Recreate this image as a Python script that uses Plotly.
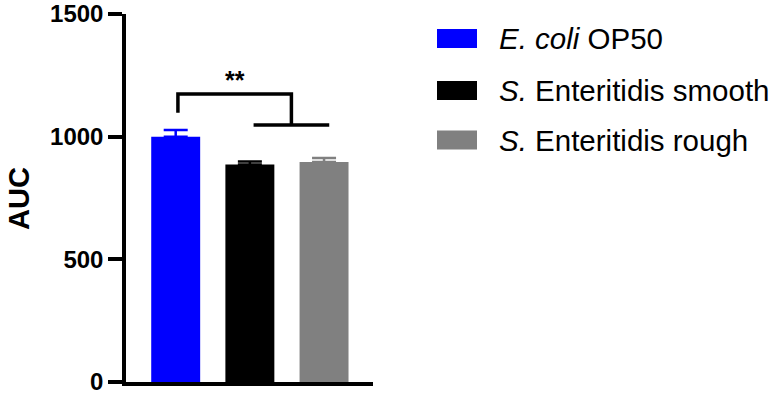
import plotly.graph_objects as go

categories = ["E. coli OP50", "S. Enteritidis smooth", "S. Enteritidis rough"]
legend_labels = ["<i>E. coli</i> OP50", "<i>S.</i> Enteritidis smooth", "<i>S.</i> Enteritidis rough"]
auc_values = [1000, 887, 897]
auc_errors = [27, 12, 16]
colors = ["#0000FF", "#000000", "#808080"]
y_ticks = [0, 500, 1000, 1500]

FONT = "Arial, Liberation Sans, sans-serif"

fig = go.Figure()
for i, (cat, val, err, col) in enumerate(zip(categories, auc_values, auc_errors, colors)):
    fig.add_trace(go.Bar(
        x=[i], y=[val], width=0.66,
        marker=dict(color=col, line=dict(width=0)),
        error_y=dict(type="data", array=[err], symmetric=False, arrayminus=[0],
                     color=col, thickness=2.5, width=12),
        name=cat, showlegend=False,
    ))

# significance bracket (data coords)
br_left_x, br_right_x = 0.03, 1.56
br_top_y, br_left_bottom_y = 1174, 1097
br_sub_y, br_sub_x0, br_sub_x1 = 1048, 1.05, 2.07
line = dict(color="black", width=3.5)
fig.add_shape(type="path", xref="x", yref="y",
              path=f"M {br_left_x},{br_left_bottom_y} L {br_left_x},{br_top_y} L {br_right_x},{br_top_y} L {br_right_x},{br_sub_y}",
              line=line)
fig.add_shape(type="line", xref="x", yref="y", x0=br_sub_x0, x1=br_sub_x1, y0=br_sub_y, y1=br_sub_y, line=line)
fig.add_annotation(x=0.8, y=1230, xref="x", yref="y", text="<b>**</b>", showarrow=False,
                   font=dict(family=FONT, size=25, color="black"), yanchor="middle")

W, H = 780, 397
L, T = 126, 14
R = W - 373
B = H - 382
pw, ph = W - L - R, H - T - B
def px2paper(x, y):
    return (x - L) / pw, (H - B - y) / ph
row_y = [38.5, 90.5, 140]
for lab, col, yc in zip(legend_labels, colors, row_y):
    x0, y0 = px2paper(437, yc - 9.5)
    x1, y1 = px2paper(477, yc + 9.5)
    fig.add_shape(type="rect", xref="paper", yref="paper", x0=x0, x1=x1, y0=y0, y1=y1,
                  fillcolor=col, line=dict(width=0))
    tx, ty = px2paper(497, yc)
    fig.add_annotation(x=tx, y=ty, xref="paper", yref="paper", text=lab, showarrow=False,
                       xanchor="left", yanchor="middle",
                       font=dict(family=FONT, size=29.5, color="black"))

# y-axis title
ax, ay = px2paper(19, 199)
fig.add_annotation(x=ax, y=ay, xref="paper", yref="paper", text="<b>AUC</b>", textangle=-90,
                   showarrow=False, font=dict(family=FONT, size=29, color="black"),
                   xanchor="center", yanchor="middle")

fig.update_layout(
    width=W, height=H,
    margin=dict(l=L, r=R, t=T, b=B, autoexpand=False),
    plot_bgcolor="white", paper_bgcolor="white",
    barmode="overlay",
    xaxis=dict(range=[-0.67, 2.66], showticklabels=False, ticks="", showgrid=False, automargin=False,
               zeroline=False, showline=True, linecolor="black", linewidth=3.5),
    yaxis=dict(range=[0, 1500], tickvals=y_ticks, ticktext=[f"<b>{v}</b>" for v in y_ticks],
               ticks="outside", ticklen=14, tickwidth=3.5, tickcolor="black", automargin=False,
               ticklabeloverflow="allow",
               showgrid=False, zeroline=False, showline=True, linecolor="black", linewidth=3.5,
               tickfont=dict(family=FONT, size=24, color="black")),
)
fig.write_html("out.html", config={"displayModeBar": False},
               post_script="document.body.style.margin='0px';document.body.style.overflow='hidden';")
